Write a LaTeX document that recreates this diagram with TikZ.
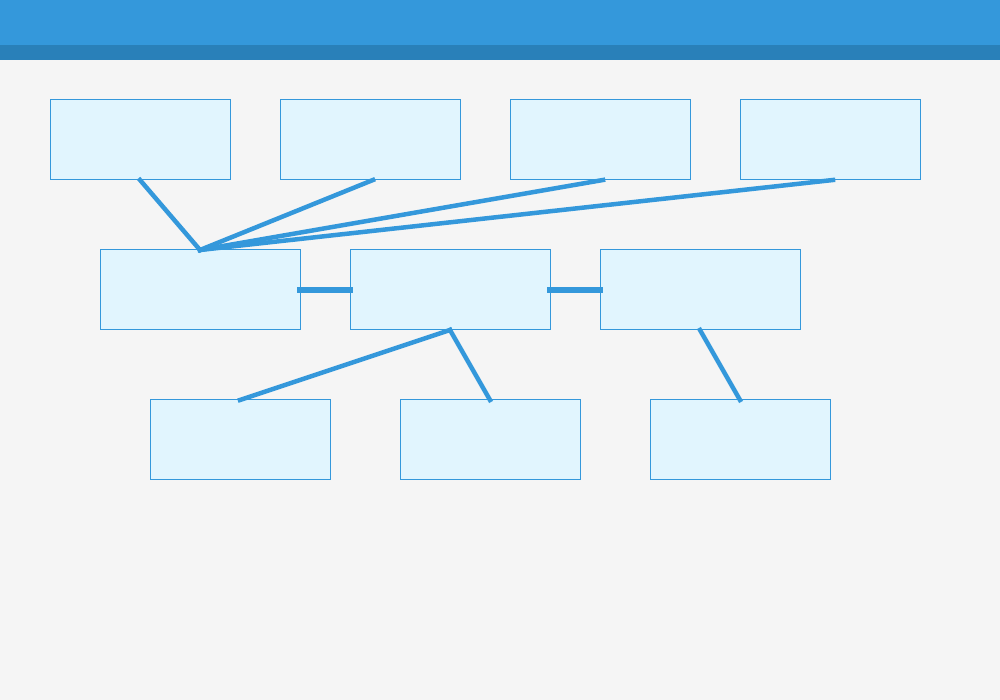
\documentclass[tikz,border=0pt]{standalone}
\usetikzlibrary{positioning}

\definecolor{headblue}{HTML}{3498DB}
\definecolor{headdark}{HTML}{2980B9}
\definecolor{pagegray}{HTML}{F5F5F5}
\definecolor{boxfill}{HTML}{E1F5FE}

\tikzset{
  card/.style={draw=headblue, fill=boxfill, line width=0.02cm, inner sep=0pt, outer sep=0pt,
    minimum height=1.6cm},
  link/.style={draw=headblue, line width=0.09cm, line cap=rect},
  bar/.style={draw=headblue, line width=0.12cm, line cap=rect}
}

\begin{document}
\begin{tikzpicture}
  % page and header
  \fill[pagegray] (0, 0) rectangle (20, 14);
  \useasboundingbox (0, 0) rectangle (20, 14);
  \fill[headblue] (0, 14) rectangle (20, 13.1);
  \fill[headdark] (0, 13.1) rectangle (20, 12.8);

  % top row
  \foreach \n / \x in {a/2.8, b/7.4, c/12.0, d/16.6}{
    \node[card, minimum width=3.6cm] (top\n) at (\x, 11.2) {};
  }

  % middle row
  \foreach \n / \x in {a/4.0, b/9.0, c/14.0}{
    \node[card, minimum width=4cm] (mid\n) at (\x, 8.2) {};
  }

  % bottom row
  \foreach \n / \x in {a/4.8, b/9.8, c/14.8}{
    \node[card, minimum width=3.6cm] (bot\n) at (\x, 5.2) {};
  }

  % top row into the first middle box
  \draw[link] (topa.south) -- (mida.north);
  \foreach \n in {b, c, d}{
    \draw[link] ([xshift=0.06cm]top\n.south) -- (mida.north);
  }

  % middle row chain
  \draw[bar] (mida.east) -- (midb.west);
  \draw[bar] (midb.east) -- (midc.west);

  % middle row down to bottom row
  \draw[link] (midb.south) -- (bota.north);
  \draw[link] (midb.south) -- (botb.north);
  \draw[link] (midc.south) -- (botc.north);
\end{tikzpicture}
\end{document}
